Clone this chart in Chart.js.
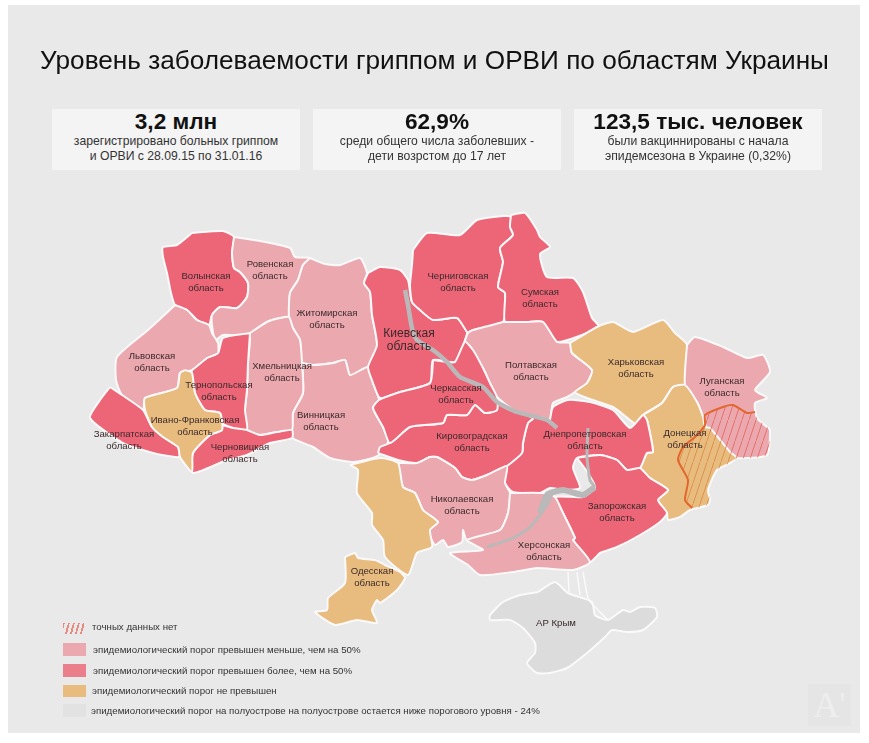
<!DOCTYPE html>
<html>
<head>
<meta charset="utf-8">
<script src="https://cdn.jsdelivr.net/npm/chart.js@4"></script>
<style>
    body { margin: 0; background: #fff; font-family: "Liberation Sans", Arial, sans-serif; color: #1c1c1c; }
    #wrap { position: relative; width: 869px; height: 743px; overflow: hidden; }
    #panel { position: absolute; left: 8px; top: 5px; width: 852px; height: 728px; background: #e9e9e9; }
    canvas { position: absolute; left: 0; top: 0; }
    h1 { position: absolute; left: 0; top: 45px; width: 869px; margin: 0; text-align: center; font-size: 26.2px; font-weight: normal; line-height: 30px; color: #111; }
    .box { position: absolute; top: 109px; width: 248px; height: 61px; background: #f3f4f3; text-align: center; font-size: 12.2px; line-height: 15px; color: #333; }
    .box b { display: block; font-size: 22.6px; line-height: 26px; margin-bottom: -1px; color: #111; }
    .leg { position: absolute; left: 63px; width: 23px; height: 12px; }
    .legText { position: absolute; font-size: 9.7px; line-height: 12px; color: #333; white-space: nowrap; }
    #mark { position: absolute; left: 808px; top: 684px; width: 43px; height: 42px; background: #e5e5e5; color: #eeeeee; font: 36px/42px "Liberation Serif", serif; text-align: center; }
</style>
</head>
<body>
<div id="wrap">
    <div id="panel"></div>
    <canvas id="map" width="869" height="743"></canvas>
    <h1>Уровень заболеваемости гриппом и ОРВИ по областям Украины</h1>
    <div class="box" style="left:52px"><b>3,2 млн</b>зарегистрировано больных гриппом<br>и ОРВИ с 28.09.15 по 31.01.16</div>
    <div class="box" style="left:313px"><b>62,9%</b>среди общего числа заболевших -<br>дети возрстом до 17 лет</div>
    <div class="box" style="left:574px"><b>123,5 тыс. человек</b>были вакциннированы с начала<br>эпидемсезона в Украине (0,32%)</div>
    <div class="leg" style="top:623px;width:21px;height:11px;background:repeating-linear-gradient(105deg,#e98a80 0 1.8px,transparent 1.8px 4.8px)"></div>
    <div class="leg" style="top:643px;height:13px;background:#eba8ae"></div>
    <div class="leg" style="top:664px;height:13px;background:#ea7f8b"></div>
    <div class="leg" style="top:685px;background:#e8bc7e"></div>
    <div class="leg" style="top:704px;height:13px;background:#e2e2e2"></div>
    <div class="legText" style="left:92px;top:621px">точных данных нет</div>
    <div class="legText" style="left:93px;top:644px">эпидемиологический порог превышен меньше, чем на 50%</div>
    <div class="legText" style="left:93px;top:665px">эпидемиологический порог превышен более, чем на 50%</div>
    <div class="legText" style="left:92px;top:685px">эпидемиологический порог не превышен</div>
    <div class="legText" style="left:91px;top:705px">эпидемиологический порог на полуострове на полуострове остается ниже порогового уровня - 24%</div>
    <div id="mark">A'</div>
</div>
<script>
//region outlines (x, y on the page grid)
const volyn = [[192,233],[223,231],[234,237],[232,253],[234,268],[240,272],[248,283],[247,297],[237,308],[220,307],[212,315],[209,325],[197,320],[187,310],[175,305],[171,293],[167,273],[163,257],[163,247],[177,245]]
const rovno = [[234,237],[260,241],[290,248],[295,257],[310,258],[303,265],[298,280],[290,293],[289,317],[280,318],[267,322],[247,335],[223,335],[215,340],[212,325],[212,315],[220,307],[237,308],[247,297],[248,283],[240,272],[234,268],[232,253]]
const zhytomyr = [[310,258],[325,264],[340,265],[360,258],[367,273],[364,283],[370,292],[372,315],[377,345],[368,367],[350,375],[345,360],[333,363],[313,365],[302,363],[300,340],[293,328],[289,317],[290,293],[298,280],[303,265]]
const vinnytsia = [[302,363],[313,365],[333,363],[345,360],[350,375],[368,367],[373,383],[379,400],[373,408],[383,427],[388,442],[379,455],[365,460],[352,462],[330,458],[313,447],[292,438],[292,430],[293,413],[303,393]]
const khmelnytsky = [[247,335],[267,322],[280,318],[289,317],[293,328],[300,340],[302,363],[303,393],[293,413],[292,430],[277,432],[260,435],[247,430],[245,410],[247,390],[248,363],[250,338]]
const ternopil = [[250,333],[223,338],[218,353],[207,358],[192,370],[195,393],[205,410],[220,413],[222,423],[233,428],[247,430],[245,410],[247,390],[248,363]]
const lviv = [[175,305],[187,310],[197,320],[209,325],[212,333],[218,343],[218,353],[207,358],[192,370],[180,373],[177,388],[145,398],[143,410],[122,395],[116,380],[117,357],[148,330]]
const zakarpattia = [[110,387],[122,395],[143,410],[152,427],[163,437],[178,447],[179,457],[153,453],[123,443],[90,418],[100,400]]
const frankivsk = [[185,370],[192,373],[195,393],[205,410],[220,413],[222,430],[210,435],[193,453],[192,472],[180,457],[178,447],[163,437],[152,427],[145,410],[145,398],[177,388],[180,373]]
const chernivtsi = [[222,425],[233,428],[247,430],[260,435],[277,432],[292,430],[292,438],[270,443],[247,455],[227,460],[193,473],[193,453],[210,435],[222,430]]
const kyiv = [[368,273],[380,267],[400,270],[408,280],[410,292],[412,302],[420,310],[433,320],[457,318],[467,332],[465,340],[455,362],[433,360],[430,383],[400,392],[380,398],[373,383],[368,367],[377,345],[372,315],[370,292],[364,283]]
const chernihiv = [[413,250],[427,233],[460,235],[477,220],[503,216],[511,217],[510,227],[513,235],[500,248],[503,262],[498,287],[505,293],[503,322],[473,330],[468,333],[457,318],[433,320],[420,310],[412,302],[410,285],[412,265]]
const sumy = [[511,215],[525,213],[537,230],[540,237],[550,247],[540,254],[547,277],[573,278],[583,292],[592,318],[599,327],[557,342],[543,322],[527,322],[505,322],[505,293],[498,287],[503,262],[500,248],[513,235],[510,227]]
const poltava = [[503,322],[527,322],[543,322],[557,342],[570,343],[572,353],[592,370],[587,383],[575,392],[567,397],[553,403],[550,420],[543,418],[517,412],[497,397],[490,383],[483,368],[470,353],[465,342],[468,333],[473,330]]
const kharkiv = [[570,343],[597,327],[613,322],[633,332],[663,320],[675,333],[687,345],[685,385],[673,387],[662,403],[643,415],[640,427],[613,407],[587,398],[575,392],[587,383],[592,370],[572,353]]
const luhansk = [[687,345],[695,337],[723,347],[747,358],[763,355],[770,372],[755,390],[767,398],[755,403],[757,418],[767,427],[770,430],[767,455],[737,458],[730,452],[707,428],[703,417],[697,402],[685,385]]
const donetsk = [[643,415],[662,403],[673,387],[685,385],[697,402],[703,417],[705,427],[710,428],[730,452],[737,458],[730,463],[717,470],[708,490],[710,500],[708,505],[690,510],[680,517],[668,520],[667,513],[658,500],[668,490],[650,478],[640,468],[647,453],[653,452],[647,420]]
const dnipro = [[550,420],[553,407],[568,400],[590,402],[613,410],[630,428],[643,415],[647,420],[653,452],[647,453],[640,468],[627,470],[617,460],[600,455],[577,458],[573,468],[580,488],[563,490],[550,488],[540,493],[513,492],[505,483],[507,466],[522,453],[523,443],[528,423],[533,418],[517,412],[543,418]]
const zaporizhzhia = [[577,458],[600,455],[617,460],[627,470],[640,468],[650,478],[668,490],[658,500],[667,513],[660,522],[640,535],[617,547],[600,553],[595,558],[590,562],[573,540],[575,538],[563,513],[555,497],[583,497],[595,487],[588,473]]
const kirovohrad = [[378,453],[380,447],[390,443],[410,427],[443,423],[447,415],[467,415],[475,405],[485,413],[497,410],[495,403],[510,410],[517,412],[533,418],[528,423],[523,443],[522,453],[507,466],[487,475],[472,480],[462,477],[455,468],[437,457],[430,457],[417,463],[398,460]]
const cherkasy = [[433,360],[447,362],[455,362],[465,342],[473,350],[483,368],[490,383],[497,397],[497,410],[485,413],[475,405],[467,415],[447,415],[443,423],[410,427],[390,443],[383,427],[373,408],[379,400],[400,392],[430,383]]
const mykolaiv = [[398,463],[417,463],[430,457],[437,457],[455,468],[462,477],[472,480],[487,475],[507,466],[505,483],[510,493],[508,513],[500,530],[467,540],[463,530],[462,542],[448,547],[443,540],[435,545],[428,530],[438,522],[423,510],[415,493],[403,487]]
const odesaNorth = [[350,465],[380,458],[398,463],[403,487],[415,493],[423,510],[438,522],[430,530],[432,547],[417,553],[408,575],[385,557],[383,540],[372,525],[372,513],[357,493],[358,470]]
const odesaSouth = [[345,557],[355,553],[358,558],[375,560],[385,565],[400,572],[405,578],[397,590],[380,603],[377,600],[372,610],[377,623],[357,620],[335,625],[315,612],[327,610],[328,598],[345,583]]
const kherson = [[510,493],[543,493],[555,497],[563,513],[575,538],[573,540],[590,562],[573,570],[537,568],[513,572],[480,575],[468,565],[450,553],[483,550],[467,540],[500,530],[508,513]]
const crimea = [[538,592],[555,582],[568,593],[592,602],[595,615],[608,620],[623,610],[630,612],[640,607],[655,608],[657,617],[643,630],[627,632],[612,630],[605,637],[587,653],[567,668],[550,673],[537,673],[527,663],[535,653],[535,643],[523,628],[510,620],[490,620],[490,615],[503,602],[520,595]]

//parts with no exact data and the line around them
const luhanskOccupied = [[703,417],[723,407],[733,405],[747,413],[755,412],[757,418],[767,427],[770,430],[767,455],[737,458],[730,452],[707,428],[703,425]]
const donetskOccupied = [[703,427],[695,437],[683,447],[678,460],[688,480],[685,500],[692,508],[708,505],[710,500],[708,490],[717,470],[730,463],[737,458],[730,452],[710,428]]
const frontLine = [[692,508],[685,500],[688,480],[678,460],[683,447],[695,437],[705,425],[705,415],[723,407],[733,405],[747,413],[755,412]]

//river and the little white lines by Crimea
const dnieperNorth = [[405,290],[408,305],[412,328],[417,340],[433,350],[447,362],[460,377],[483,387],[497,402],[517,412],[547,420],[557,428]]
const dnieperSouth = [[595,487],[583,495],[563,490],[547,495],[540,513]]
const dnieperBranch = [[553,492],[547,505],[530,527],[513,538],[487,547]]
const dnieperEast = [[588,428],[587,457],[590,480],[595,487]]
const arabat = [[568,572],[569,592]]
const chongar = [[577,572],[580,595]]
const sivash = [[583,572],[588,598],[593,605],[608,620]]

const STRONG = '#ed6677'
const LIGHT = '#eba8ae'
const ORANGE = '#e8bc7e'
const CRIMEA = '#dcdcdc'
const EDGE = '#fbf9f9'

//region labels: name, x, y
const labelNames = ['Волынская','Ровенская','Житомирская','Черниговская','Сумская','Львовская','Тернопольская','Хмельницкая','Винницкая','Полтавская','Харьковская','Луганская','Черкасская','Кировоградская','Днепропетровская','Донецкая','Ивано-Франковская','Закарпатская','Черновицкая','Николаевская','Запорожская','Херсонская','Одесская']
const labelX = [206,270,327,458,540,152,219,282,321,531,636,722,456,472,585,685,195,124,240,462,617,544,372]
const labelY = [276,264,313,276,292,356,385,366,415,365,362,381,388,436,434,433,420,434,447,499,506,545,571]

function toPoints(list){
    const pts = list.map(p => ({x: p[0], y: p[1]}))
    pts.push(pts[0])
    return pts
}

function region(list, color){
    return {
        data: toPoints(list),
        showLine: true,
        fill: 'shape',
        backgroundColor: color,
        borderColor: EDGE,
        borderWidth: 2,
        borderJoinStyle: 'round',
        pointRadius: 0,
        tension: 0.2
    }
}

function line(list, color, width){
    return {
        data: list.map(p => ({x: p[0], y: p[1]})),
        showLine: true,
        fill: false,
        borderColor: color,
        borderWidth: width,
        borderJoinStyle: 'round',
        pointRadius: 0,
        tension: 0.2
    }
}

//diagonal hatch for the occupied parts
function hatch(color){
    const tile = document.createElement('canvas')
    tile.width = 7
    tile.height = 21
    const c = tile.getContext('2d')
    c.strokeStyle = color
    c.lineWidth = 0.9
    c.beginPath()
    c.moveTo(-1, 24)
    c.lineTo(8, -3)
    c.stroke()
    return c.createPattern(tile, 'repeat')
}

const labelsPlugin = {
    id: 'regionLabels',
    afterDatasetsDraw(chart){
        const ctx = chart.ctx
        const xs = chart.scales.x
        const ys = chart.scales.y
        ctx.save()
        ctx.textAlign = 'center'
        ctx.textBaseline = 'middle'
        ctx.fillStyle = '#3a2a2c'
        ctx.font = '9.6px "Liberation Sans", Arial, sans-serif'
        labelNames.forEach((name, i) => {
            ctx.fillText(name, xs.getPixelForValue(labelX[i]), ys.getPixelForValue(labelY[i]))
            ctx.fillText('область', xs.getPixelForValue(labelX[i]), ys.getPixelForValue(labelY[i] + 12))
        })
        ctx.font = '12px "Liberation Sans", Arial, sans-serif'
        ctx.fillText('Киевская', xs.getPixelForValue(409), ys.getPixelForValue(334))
        ctx.fillText('область', xs.getPixelForValue(409), ys.getPixelForValue(347))
        ctx.font = '9.6px "Liberation Sans", Arial, sans-serif'
        ctx.fillText('АР Крым', xs.getPixelForValue(556), ys.getPixelForValue(623))
        ctx.restore()
    }
}

const datasets = [
    region(volyn, STRONG), region(rovno, LIGHT), region(zhytomyr, LIGHT), region(vinnytsia, LIGHT),
    region(khmelnytsky, LIGHT), region(ternopil, STRONG), region(lviv, LIGHT), region(zakarpattia, STRONG),
    region(chernivtsi, STRONG), region(frankivsk, ORANGE), region(kyiv, STRONG), region(chernihiv, STRONG),
    region(sumy, STRONG), region(poltava, LIGHT), region(kharkiv, ORANGE), region(luhansk, LIGHT),
    region(donetsk, ORANGE), region(dnipro, STRONG), region(zaporizhzhia, STRONG), region(kirovohrad, STRONG),
    region(cherkasy, STRONG), region(mykolaiv, LIGHT), region(odesaNorth, ORANGE), region(odesaSouth, ORANGE),
    region(kherson, LIGHT), region(crimea, CRIMEA)
]
//later ones must sit on top, chart.js paints the first dataset last
datasets.forEach((d, i) => { d.order = 100 - i })

const extras = [
    line(dnieperNorth, '#b9b9b9', 4.5), line(dnieperEast, '#b9b9b9', 3), line(dnieperSouth, '#b9b9b9', 6),
    line(dnieperBranch, '#b9b9b9', 3), line(arabat, EDGE, 1.5), line(chongar, EDGE, 1.5), line(sivash, EDGE, 1.5)
]
const hatchLuhansk = region(luhanskOccupied, hatch('rgba(226,92,80,0.8)'))
const hatchDonetsk = region(donetskOccupied, hatch('rgba(214,120,50,0.7)'))
hatchLuhansk.borderWidth = 0
hatchDonetsk.borderWidth = 0
const front = line(frontLine, '#e2672f', 2)

;[...extras, hatchLuhansk, hatchDonetsk, front].forEach((d, i) => {
    d.order = 50 - i
    datasets.push(d)
})

new Chart(document.querySelector('#map').getContext('2d'), {
    type: 'scatter',
    data: { datasets },
    plugins: [labelsPlugin],
    options: {
        responsive: false,
        animation: false,
        events: [],
        layout: { padding: 0 },
        clip: false,
        plugins: { legend: { display: false }, tooltip: { enabled: false } },
        scales: {
            x: { type: 'linear', display: false, min: 0, max: 869 },
            y: { type: 'linear', display: false, min: 0, max: 743, reverse: true }
        }
    }
})
</script>
</body>
</html>
